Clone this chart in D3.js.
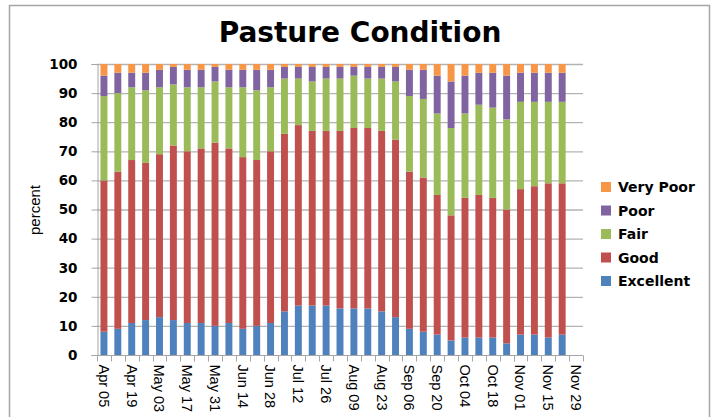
<!DOCTYPE html>
<html><head><meta charset="utf-8">
<script src="https://cdn.jsdelivr.net/npm/d3@7"></script>
<style>body{margin:0;background:#fff}svg{display:block}</style>
</head><body>
<script>
const categories = ["Apr 05","Apr 12","Apr 19","Apr 26","May 03","May 10","May 17","May 24","May 31","Jun 07","Jun 14","Jun 21","Jun 28","Jul 05","Jul 12","Jul 19","Jul 26","Aug 02","Aug 09","Aug 16","Aug 23","Aug 30","Sep 06","Sep 13","Sep 20","Sep 27","Oct 04","Oct 11","Oct 18","Oct 25","Nov 01","Nov 08","Nov 15","Nov 22","Nov 29"];
const tickLabels = ["Apr 05","Apr 19","May 03","May 17","May 31","Jun 14","Jun 28","Jul 12","Jul 26","Aug 09","Aug 23","Sep 06","Sep 20","Oct 04","Oct 18","Nov 01","Nov 15","Nov 29"];
const yTicks = [0,10,20,30,40,50,60,70,80,90,100];
const seriesNames = ["Excellent","Good","Fair","Poor","Very Poor"];
const excellent = [8,9,11,12,13,12,11,11,10,11,9,10,11,15,17,17,17,16,16,16,15,13,9,8,7,5,6,6,6,4,7,7,6,7];
const good      = [52,54,56,54,56,60,59,60,63,60,59,57,59,61,62,60,60,61,62,62,62,61,54,53,48,43,48,49,48,46,50,51,53,52];
const fair      = [29,27,25,25,23,21,22,21,21,21,24,24,22,19,16,17,18,18,18,17,18,20,26,27,28,30,29,31,31,31,30,29,28,28];
const poor      = [7,7,5,6,6,6,6,6,5,6,6,7,6,4,4,5,4,4,3,4,4,5,9,10,13,16,13,11,12,15,10,10,10,10];
const veryPoor  = [4,3,3,3,2,1,2,2,1,2,2,2,2,1,1,1,1,1,1,1,1,1,2,2,4,6,4,3,3,4,3,3,3,3];
const colors = ["#4F81BD","#C0504D","#9BBB59","#8064A2","#F79646"];

const W = 712, H = 417;
const svg = d3.select("body").append("svg").attr("width", W).attr("height", H);
svg.append("rect").attr("x", 9.5).attr("y", 5.5).attr("width", 700).attr("height", 420)
  .attr("fill", "#fff").attr("stroke", "#a6a6a6").attr("stroke-width", 1.5);

const m = {left: 97, right: 583, top: 64, bottom: 355};
const x = d3.scaleBand().domain(categories).range([m.left, m.right]).paddingInner(0.5).paddingOuter(0.25);
const xb = d3.scaleBand().domain(categories).range([m.left, m.right]);
const y = d3.scaleLinear().domain([0, 100]).range([m.bottom, m.top]);

svg.append("text").attr("x", 360).attr("y", 42).attr("text-anchor", "middle")
  .attr("font-family", "DejaVu Sans").attr("font-weight", "bold").attr("font-size", 28)
  .text("Pasture Condition");

// gridlines
svg.append("g").selectAll("line").data(yTicks.filter(d => d > 0)).join("line")
  .attr("x1", m.left).attr("x2", m.right).attr("y1", d => y(d) + 0.5).attr("y2", d => y(d) + 0.5)
  .attr("stroke", "#b3b3b3").attr("stroke-width", 1.3);

// y axis
const yAxis = svg.append("g").attr("transform", `translate(${m.left + 0.5},0)`)
  .call(d3.axisLeft(y).tickValues(yTicks).tickSize(6).tickPadding(14));
yAxis.select(".domain").attr("stroke", "#a6a6a6");
yAxis.selectAll(".tick line").attr("stroke", "#a6a6a6");
yAxis.selectAll("text").attr("font-family", "DejaVu Sans").attr("font-weight", "bold")
  .attr("font-size", 13.5).attr("fill", "#000");

svg.append("text").attr("transform", "translate(40,210) rotate(-90)").attr("text-anchor", "middle")
  .attr("font-family", "Liberation Sans").attr("font-size", 15).text("percent");

// stacked bars
const rows = categories.slice(0, excellent.length).map((c, i) => ({
  cat: c, "Excellent": excellent[i], "Good": good[i], "Fair": fair[i], "Poor": poor[i], "Very Poor": veryPoor[i]
}));
const stacked = d3.stack().keys(seriesNames)(rows);
svg.append("g").selectAll("g").data(stacked).join("g").attr("fill", (d, i) => colors[i])
  .selectAll("rect").data(d => d).join("rect")
  .attr("x", d => x(d.data.cat)).attr("width", x.bandwidth())
  .attr("y", d => y(d[1])).attr("height", d => y(d[0]) - y(d[1]));

// x axis
const xg = svg.append("g").attr("transform", `translate(0,${m.bottom + 0.5})`);
xg.append("line").attr("x1", m.left).attr("x2", m.right).attr("stroke", "#a6a6a6");
const bounds = categories.map(c => xb(c)).concat([m.right]);
xg.selectAll("line.t").data(bounds).join("line").attr("class", "t")
  .attr("x1", d => Math.round(d) + 0.5).attr("x2", d => Math.round(d) + 0.5).attr("y1", 0).attr("y2", 6)
  .attr("stroke", "#a6a6a6");
xg.selectAll("text").data(tickLabels).join("text")
  .attr("transform", d => `translate(${xb(d) + xb.bandwidth() / 2},9) rotate(90)`)
  .attr("dy", "0.35em").attr("text-anchor", "start")
  .attr("font-family", "Liberation Sans").attr("font-size", 14.5).text(d => d);

// legend
const legendOrder = seriesNames.map((n, i) => ({n, c: colors[i]})).reverse();
const lg = svg.append("g").selectAll("g").data(legendOrder).join("g")
  .attr("transform", (d, i) => `translate(601,${187 + i * 23.5})`);
lg.append("rect").attr("x", 0).attr("y", -5).attr("width", 10).attr("height", 10).attr("fill", d => d.c);
lg.append("text").attr("x", 17).attr("dy", "0.36em").attr("font-family", "DejaVu Sans")
  .attr("font-weight", "bold").attr("font-size", 14).text(d => d.n);
</script>
</body></html>
